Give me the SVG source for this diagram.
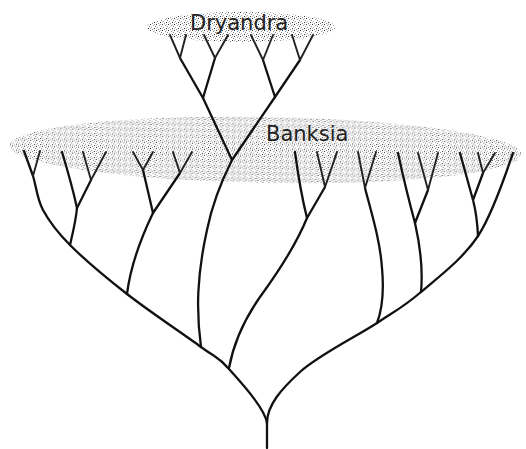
<svg xmlns="http://www.w3.org/2000/svg" width="526" height="449" viewBox="0 0 526 449">
<defs>
<pattern id="stip" width="6" height="6" patternUnits="userSpaceOnUse">
<rect x="0" y="0" width="1" height="1" fill="#333"/>
<rect x="3" y="1" width="1" height="1" fill="#999"/>
<rect x="1" y="3" width="1" height="1" fill="#aaa"/>
<rect x="4" y="4" width="1" height="1" fill="#333"/>
<rect x="2" y="5" width="1" height="1" fill="#888"/>
<rect x="5" y="2" width="1" height="1" fill="#888"/>
<rect x="4" y="0" width="1" height="1" fill="#bbb"/>
<rect x="0" y="4" width="1" height="1" fill="#bbb"/>
</pattern>
<style>
.br{fill:none;stroke:#111;stroke-width:2.3;stroke-linecap:round;stroke-linejoin:round}
.tip{fill:none;stroke:#222;stroke-width:1.9;stroke-linecap:round;stroke-linejoin:round}
.lab{font-family:"DejaVu Sans",sans-serif;font-size:21px;fill:#222}
.band{fill:url(#stip)}
</style>
</defs>
<rect width="526" height="449" fill="#fff"/>
<g id="banksia-band"><ellipse class="band" cx="265.5" cy="150" rx="256" ry="33" transform="rotate(1 265.5 150)"/></g>
<g id="dryandra-band"><ellipse class="band" cx="241" cy="27" rx="94" ry="15"/></g>
<g id="connectors">
<!-- trunk -->
<path class="br" d="M267,448 L267,423"/>
<!-- right main -->
<path class="br" d="M267,423 C267,405 281.7,388.7 300,372 C318.3,355.3 356.8,336.3 377,323 C397.2,309.7 404.2,306.5 421,292 C437.8,277.5 462.7,259.2 478,236 C493.3,212.8 507,170 513,153"/>
<!-- left main -->
<path class="br" d="M267,423 C265,408 240,381.7 229,369 C218,356.3 218,359.5 201,347 C184,334.5 148.8,311 127,294 C105.2,277 84,259 70,245 C56,231 49.2,221.5 43,210 C36.8,198.5 36.2,185.8 33,176 L24,151"/>
<path class="tip" d="M33,176 L40,151"/>
<!-- clade at 70,245 -->
<path class="br" d="M70,245 C73,232 76,220 77,208 Q72,185 62,152"/>
<path class="br" d="M77,208 L91,180"/>
<path class="tip" d="M91,180 L83,152 M91,180 L106,152"/>
<!-- clade at 127,294 -->
<path class="br" d="M127,294 C130,270 140,240 153,213"/>
<path class="br" d="M153,213 L143,170 M153,213 L180,173"/>
<path class="tip" d="M143,170 L133,152 M143,170 L153,152 M180,173 L173,152 M180,173 L192,152"/>
<!-- Dryandra lineage -->
<path class="br" d="M201,347 C196,310 197,275 207,230 C212,205 222,180 232,160"/>
<path class="br" d="M232,160 L203,98 M232,160 L275,97"/>
<path class="br" d="M203,98 L180,58 M203,98 L215,58 M275,97 L263,60 M275,97 L300,60"/>
<path class="tip" d="M180,58 L170,35 M180,58 L186,35 M215,58 L204,35 M215,58 L228,35 M263,60 L251,35 M263,60 L273,35 M300,60 L292,35 M300,60 L313,35"/>
<!-- clade at 229,368 -->
<path class="br" d="M229,368 C235,335 250,310 265,290 C285,262 298,240 307,218"/>
<path class="br" d="M307,218 Q300,190 295,152 M307,218 L325,187"/>
<path class="tip" d="M325,187 L317,152 M325,187 L337,152"/>
<!-- clade at 377,323 -->
<path class="br" d="M377,323 C382,310 384,290 382,268 C380,240 372,215 365,188"/>
<path class="tip" d="M365,188 L358,152 M365,188 L376,152"/>
<!-- clade at 421,292 -->
<path class="br" d="M421,292 C423,270 420,245 415,223"/>
<path class="br" d="M415,223 Q406,190 398,153 M415,223 L428,190"/>
<path class="tip" d="M428,190 L418,153 M428,190 L438,153"/>
<!-- clade at 478,236 -->
<path class="br" d="M478,236 Q477,215 473,200 L460,153 M473,200 L483,173"/>
<path class="tip" d="M483,173 L478,153 M483,173 L495,153"/>
</g>
<g id="dryandra"><text class="lab" x="190" y="30">Dryandra</text></g>
<g id="banksia"><text class="lab" x="266" y="141">Banksia</text></g>
</svg>
